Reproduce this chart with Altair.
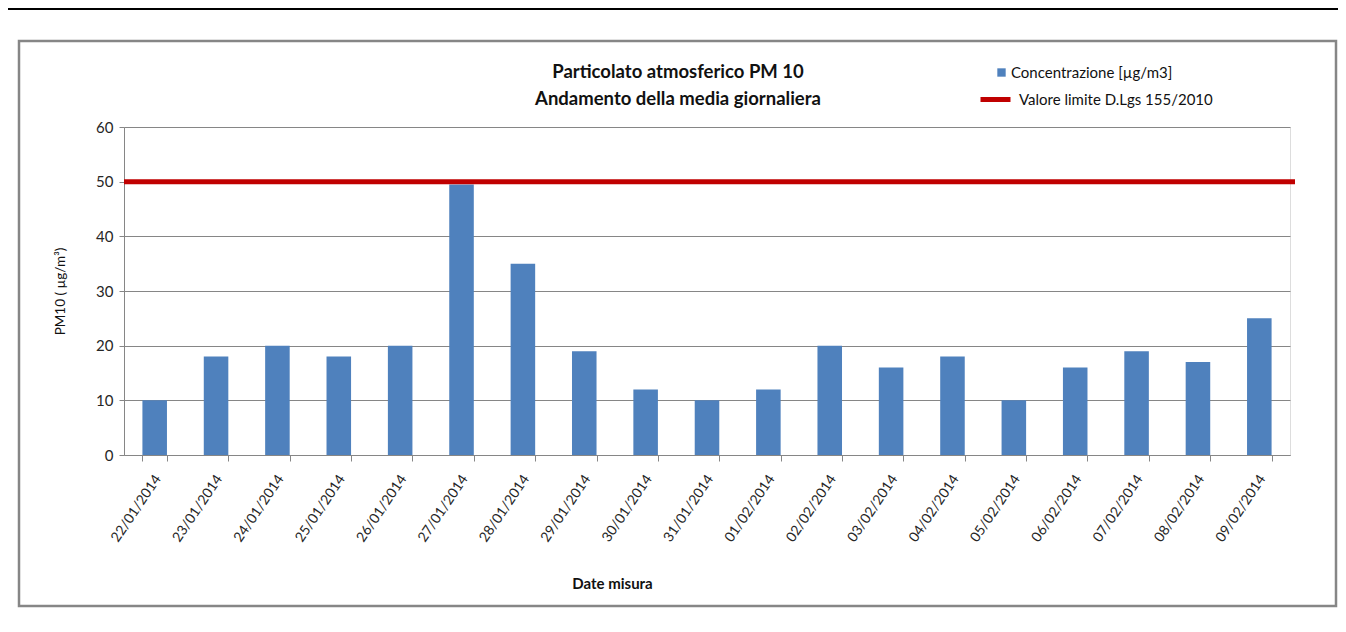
import altair as alt
import pandas as pd

dates = ["22/01/2014", "23/01/2014", "24/01/2014", "25/01/2014", "26/01/2014",
         "27/01/2014", "28/01/2014", "29/01/2014", "30/01/2014", "31/01/2014",
         "01/02/2014", "02/02/2014", "03/02/2014", "04/02/2014", "05/02/2014",
         "06/02/2014", "07/02/2014", "08/02/2014", "09/02/2014"]
values = [10, 18, 20, 18, 20, 49.5, 35, 19, 12, 10, 12, 20, 16, 18, 10, 16, 19, 17, 25]
limit_value = 50
bar_series = "Concentrazione [µg/m3]"
limit_series = "Valore limite D.Lgs 155/2010"
title_lines = ["Particolato  atmosferico PM 10", "Andamento della media giornaliera"]

FONT = "Lato"
W, H = 1166, 328

bars_df = pd.DataFrame({"data": dates, "pm10": values, "serie": bar_series})
limit_df = pd.DataFrame({"limite": [limit_value], "serie": [limit_series]})

bars = alt.Chart(bars_df).mark_bar(color="#4f81bd").encode(
    x=alt.X("data:N", sort=dates,
            scale=alt.Scale(paddingInner=0.6, paddingOuter=0.3),
            axis=alt.Axis(title="Date misura", labelAngle=-56, labelAlign="right",
                          labelBaseline="middle", labelPadding=15, labelOffset=3,
                          labelFontSize=14, labelLimit=0,
                          labelColor="#262626", tickBand="extent", tickSize=6,
                          tickColor="#868686", domainColor="#868686",
                          titleFontSize=15, titleFontWeight="bold", titleColor="#111",
                          titleX=488, titleY=128, titleBaseline="middle",
                          titleAlign="center", labelFont=FONT, titleFont=FONT)),
    y=alt.Y("pm10:Q", scale=alt.Scale(domain=[0, 60], nice=False),
            axis=alt.Axis(title="PM10 ( µg/m³)", values=[0, 10, 20, 30, 40, 50, 60],
                          labelFontSize=15, labelColor="#262626", labelPadding=6,
                          tickSize=5, tickColor="#868686", domainColor="#868686",
                          gridColor="#868686", gridWidth=1,
                          titleFontSize=13.5, titleFontWeight="normal", titleColor="#111",
                          titleX=-64, titleY=164, titleAngle=-90,
                          titleAlign="center", titleBaseline="middle",
                          labelFont=FONT, titleFont=FONT)),
    fill=alt.Fill("serie:N", scale=alt.Scale(range=["#4f81bd"]),
                  legend=alt.Legend(title=None, orient="none", legendX=870, legendY=-62,
                                    symbolType="square", symbolSize=70,
                                    symbolStrokeWidth=0, labelFontSize=15,
                                    labelFont=FONT, labelColor="#111", labelLimit=0,
                                    labelOffset=2, padding=0)),
)

limit = alt.Chart(limit_df).mark_rule(strokeWidth=5).encode(
    y=alt.Y("limite:Q"),
    x=alt.value(0),
    x2=alt.value(W + 5),
    stroke=alt.Stroke("serie:N", scale=alt.Scale(range=["#c00000"]),
                      legend=alt.Legend(title=None, orient="none", legendX=854, legendY=-45,
                                        symbolType="stroke", symbolSize=900,
                                        symbolStrokeWidth=5, labelFontSize=15,
                                        labelFont=FONT, labelColor="#111", labelLimit=0,
                                        labelOffset=6, padding=0)),
)

one = pd.DataFrame({"k": [0]})
frame = alt.Chart(one).mark_rect(fill=None, stroke="#868686", strokeWidth=2.5).encode(
    x=alt.value(-105), x2=alt.value(1212), y=alt.value(-86), y2=alt.value(479)
)
topline = alt.Chart(one).mark_rect(fill="#000000").encode(
    x=alt.value(-120), x2=alt.value(1230), y=alt.value(-119), y2=alt.value(-117)
)
title1 = alt.Chart(one).mark_text(font=FONT, fontSize=18.5, fontWeight="bold",
                                  color="#111", align="center", baseline="middle").encode(
    x=alt.value(554), y=alt.value(-55), text=alt.value(title_lines[0])
)
title2 = alt.Chart(one).mark_text(font=FONT, fontSize=18.5, fontWeight="bold",
                                  color="#111", align="center", baseline="middle").encode(
    x=alt.value(554), y=alt.value(-28), text=alt.value(title_lines[1])
)

chart = alt.layer(frame, topline, title1, title2, bars, limit).resolve_scale(
    fill="independent", stroke="independent"
).properties(
    width=W, height=H,
    autosize=alt.AutoSizeParams(type="none"),
    padding={"left": 116, "top": 119, "right": 48, "bottom": 165},
).configure_view(stroke=None).configure(background="white")

chart.save("out.html", embed_options={"renderer": "svg", "actions": False})
